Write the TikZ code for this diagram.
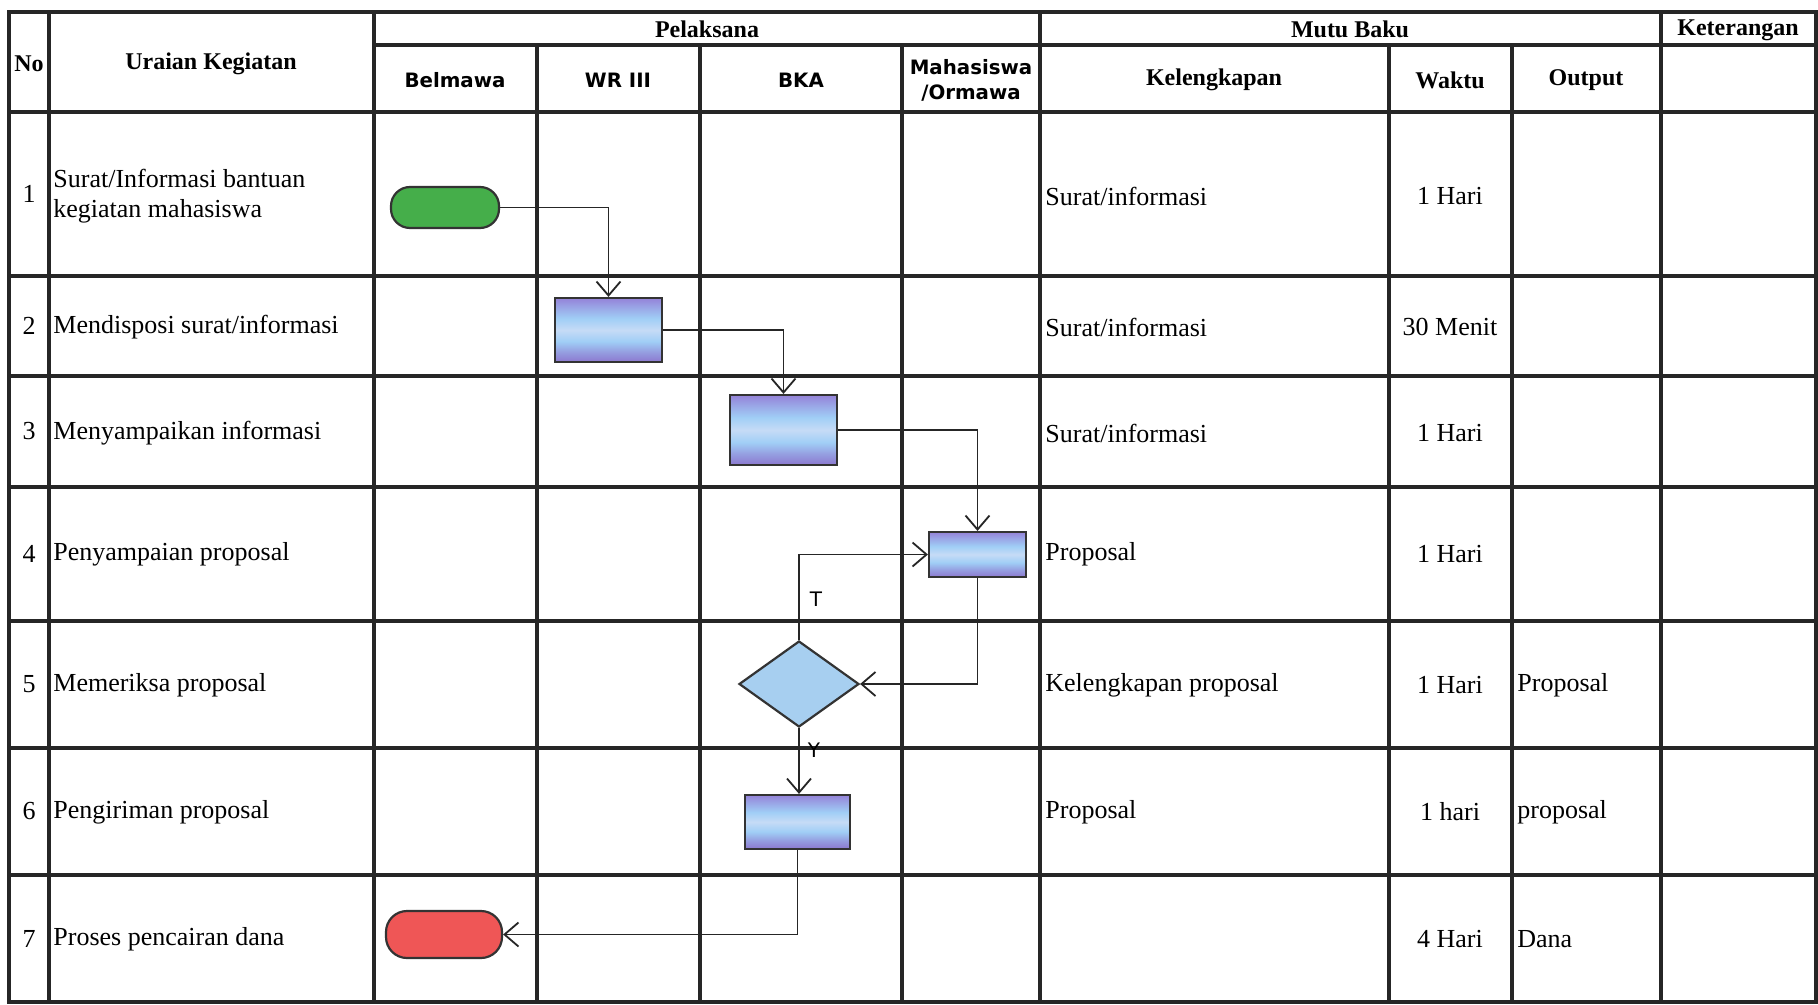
\documentclass[tikz,border=0pt]{standalone}
\usepackage{fontspec}
\setmainfont{Liberation Serif}
\newfontfamily\hsans{DejaVu Sans}
\usetikzlibrary{arrows.meta,shapes.geometric}
\definecolor{pTop}{HTML}{9482D8}
\definecolor{lBlue}{HTML}{A0CEF6}
\definecolor{lCen}{HTML}{C6DBF6}
\definecolor{pBot}{HTML}{8C78CF}
\colorlet{mixA}{pBot!55!lBlue}
\colorlet{mixB}{pTop!55!lBlue}
\definecolor{dia}{HTML}{A7CFF0}
\definecolor{gfill}{HTML}{45AE4A}
\definecolor{rfill}{HTML}{EF5656}
\pgfdeclareverticalshading{procshade}{100bp}{color(0bp)=(pBot); color(25bp)=(pBot); color(33bp)=(mixA); color(41bp)=(lBlue); color(50bp)=(lCen); color(59bp)=(lBlue); color(68bp)=(mixB); color(75bp)=(pTop); color(100bp)=(pTop)}
\begin{document}
\begin{tikzpicture}[x=0.5pt,y=-0.5pt,
  grid/.style={line width=1.7pt, draw=black!85, line cap=rect},
  flow/.style={line width=0.9pt, draw=black!85, -{Straight Barb[length=7pt,width=12pt,line width=0.9pt]}},
  proc/.style={draw=black!80, line width=1.1pt, shading=procshade, inner sep=0pt},
  term/.style={draw=black!80, line width=1.1pt, rounded corners=9pt, inner sep=0pt},
  decis/.style={diamond, draw=black!80, line width=1.1pt, fill=dia, inner sep=0pt},
  txt/.style={font=\fontsize{13}{15}\selectfont, inner sep=0pt},
  ltxt/.style={txt, anchor=west, align=left},
  hd/.style={font=\fontsize{12}{14}\selectfont\bfseries, inner sep=0pt},
  sh/.style={font=\hsans\bfseries\fontsize{9.9}{12.5}\selectfont, inner sep=0pt, align=center},
  lbl/.style={font=\hsans\fontsize{10}{12}\selectfont, inner sep=1pt}
]
\useasboundingbox (0,0) rectangle (1818,1005);
\fill[white] (0,0) rectangle (1818,1005);
% ---------- table grid ----------
\foreach \y in {12,112,276,376,487,621,748,875,1002} \draw[grid] (9,\y) -- (1816,\y);
\draw[grid] (374,45) -- (1816,45);
\foreach \x in {9,49,374,1040,1661,1816} \draw[grid] (\x,12) -- (\x,1002);
\foreach \x in {537,700,902,1389,1512} \draw[grid] (\x,45) -- (\x,1002);
% ---------- headers ----------
\node[hd] (hNo) at (29,64) {No};
\node[hd] (hUr) at (211,64) {Uraian Kegiatan};
\node[hd] (hPel) at (707,29) {Pelaksana};
\node[hd] (hMutu) at (1350,29) {Mutu Baku};
\node[hd] (hKet) at (1738,30) {Keterangan};
\node[sh] (hBel) at (455,80) {Belmawa};
\node[sh] (hWr) at (618,80) {WR III};
\node[sh] (hBka) at (801,80) {BKA};
\node[sh] (hMhs) at (971,80) {Mahasiswa\\/Ormawa};
\node[hd] (hKel) at (1214,80) {Kelengkapan};
\node[hd] (hWak) at (1450,80) {Waktu};
\node[hd] (hOut) at (1586,80) {Output};
% ---------- numbers ----------
\node[txt] (n1) at (29,194) {1};
\node[txt] (n2) at (29,326) {2};
\node[txt] (n3) at (29,431.5) {3};
\node[txt] (n4) at (29,554) {4};
\node[txt] (n5) at (29,684.5) {5};
\node[txt] (n6) at (29,811.5) {6};
\node[txt] (n7) at (29,938.5) {7};
% ---------- uraian ----------
\node[ltxt] (u1) at (53,196) {Surat/Informasi bantuan\\kegiatan mahasiswa};
\node[ltxt] (u2) at (53,327) {Mendisposi surat/informasi};
\node[ltxt] (u3) at (53,433) {Menyampaikan informasi};
\node[ltxt] (u4) at (53,554) {Penyampaian proposal};
\node[ltxt] (u5) at (53,685) {Memeriksa proposal};
\node[ltxt] (u6) at (53,812) {Pengiriman proposal};
\node[ltxt] (u7) at (53,939) {Proses pencairan dana};
% ---------- kelengkapan ----------
\node[ltxt] (k1) at (1045,196) {Surat/informasi};
\node[ltxt] (k2) at (1045,327) {Surat/informasi};
\node[ltxt] (k3) at (1045,433) {Surat/informasi};
\node[ltxt] (k4) at (1045,554) {Proposal};
\node[ltxt] (k5) at (1045,685) {Kelengkapan proposal};
\node[ltxt] (k6) at (1045,812) {Proposal};
% ---------- waktu ----------
\node[txt] (w1) at (1450,196) {1 Hari};
\node[txt] (w2) at (1450,327) {30 Menit};
\node[txt] (w3) at (1450,433) {1 Hari};
\node[txt] (w4) at (1450,554) {1 Hari};
\node[txt] (w5) at (1450,685) {1 Hari};
\node[txt] (w6) at (1450,812) {1 hari};
\node[txt] (w7) at (1450,939) {4 Hari};
% ---------- output ----------
\node[ltxt] (o5) at (1517,685) {Proposal};
\node[ltxt] (o6) at (1517,812) {proposal};
\node[ltxt] (o7) at (1517,939) {Dana};
% ---------- flow shapes ----------
\node[term, fill=gfill, minimum width=54pt, minimum height=20.5pt, rounded corners=9.5pt] (start) at (445,207.5) {};
\node[proc, minimum width=53.5pt, minimum height=32pt] (wr) at (608.5,330) {};
\node[proc, minimum width=53.5pt, minimum height=35pt] (bka1) at (783.5,430) {};
\node[proc, minimum width=48.5pt, minimum height=22.5pt] (mhs) at (977.5,554.5) {};
\node[decis, minimum width=60pt, minimum height=43pt] (dec) at (799,684) {};
\node[proc, minimum width=52.5pt, minimum height=27pt] (bka2) at (797.5,822) {};
\node[term, fill=rfill, minimum width=58pt, minimum height=23.5pt, rounded corners=10.5pt] (end) at (444,934.5) {};
% ---------- connectors ----------
\draw[flow] (start.east) -| (wr.north);
\draw[flow] (wr.east) -| (bka1.north);
\draw[flow] (bka1.east) -| (mhs.north);
\draw[flow] (mhs.south) |- (dec.east);
\draw[flow] (dec.north) |- (mhs.west) node[lbl, pos=0.24, right, xshift=4pt] (lT) {T};
\draw[flow] (dec.south) -- (dec.south |- bka2.north) node[lbl, pos=0.33, right, xshift=3pt] (lY) {Y};
\draw[flow] (bka2.south) |- (end.east);
\end{tikzpicture}
\end{document}
